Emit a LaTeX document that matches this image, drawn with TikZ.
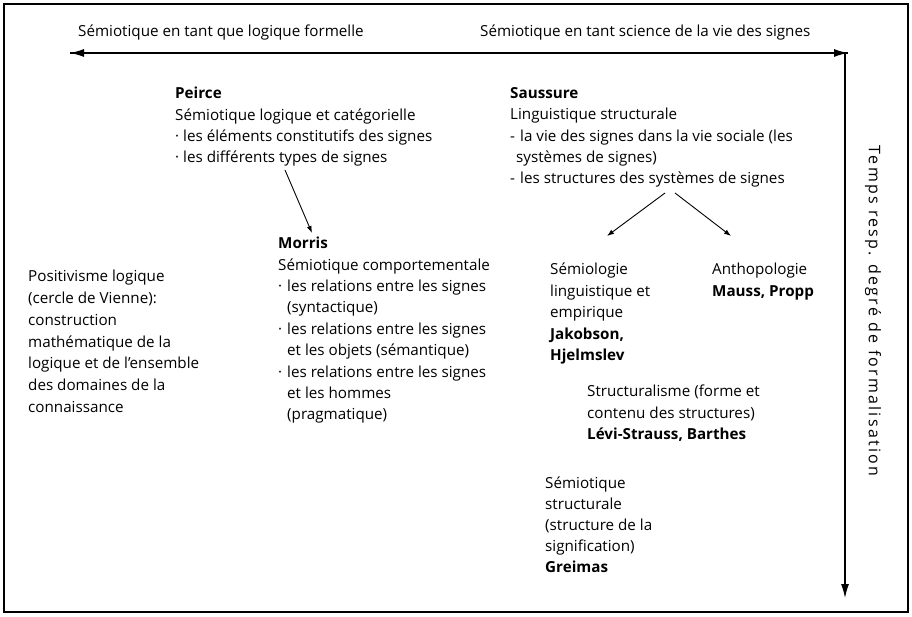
\documentclass[tikz,border=0pt]{standalone}
\usepackage{fontspec}
\setmainfont{Open Sans}
\usetikzlibrary{arrows.meta}
\begin{document}
\begin{tikzpicture}[x=1pt,y=-1pt,
  txt/.style={inner sep=0pt, anchor=north west, align=left,
    font=\fontsize{15.2}{21.4}\selectfont},
  head/.style={inner sep=0pt, anchor=west, font=\fontsize{15.2}{18}\selectfont},
  axis/.style={line width=1.2pt, -{Latex[length=14pt,width=8pt]}},
  link/.style={line width=0.9pt, -{Latex[length=7pt,width=5pt]}}]
\newcommand{\itm}[2][9pt]{\makebox[#1][l]{#2}}
\newcommand{\ind}[1][9pt]{\hspace*{#1}}
% frame
\draw[line width=1.2pt] (4,4) rectangle (908,612);
\useasboundingbox (0,0) rectangle (912,617);
% axes
\coordinate (L) at (70,53);
\coordinate (R) at (848,53);
\coordinate (C) at (845,53);
\coordinate (B) at (845,598);
\draw[axis] (R) -- (L);
\draw[axis] (L) -- (R);
\draw[axis] (C) -- (B);
\node[head] (tl) at (78,33) {Sémiotique en tant que logique formelle};
\node[head] (tr) at (480,33) {Sémiotique en tant science de la vie des signes};
\node[head, anchor=center, rotate=-90, font=\fontsize{16}{18}\selectfont] (tv) at (873,311)
  {\addfontfeature{LetterSpace=14}Temps resp. degré de formalisation};
% Peirce
\node[txt] (peirce) at (175,87) {\textbf{Peirce}\\
Sémiotique logique et catégorielle\\
\itm[8pt]{·}les éléments constitutifs des signes\\
\itm[8pt]{·}les différents types de signes};
% Morris
\node[txt] (morris) at (278,237) {\textbf{Morris}\\
Sémiotique comportementale\\
\itm{·}les relations entre les signes\\
\ind(syntactique)\\
\itm{·}les relations entre les signes\\
\ind et les objets (sémantique)\\
\itm{·}les relations entre les signes\\
\ind et les hommes\\
\ind(pragmatique)};
% Positivisme
\node[txt, font=\fontsize{15.2}{21.8}\selectfont] (posit) at (28,270) {Positivisme logique\\
(cercle de Vienne):\\
construction\\
mathématique de la\\
logique et de l'ensemble\\
des domaines de la\\
connaissance};
% Saussure
\node[txt] (saussure) at (510,87) {\textbf{Saussure}\\
Linguistique structurale\\
\itm[10pt]{-}la vie des signes dans la vie sociale (les\\
\ind[6pt]systèmes de signes)\\
\itm[10pt]{-}les structures des systèmes de signes};
% branches
\node[txt] (semio) at (550,263) {Sémiologie\\
linguistique et\\
empirique\\
\textbf{Jakobson,}\\
\textbf{Hjelmslev}};
\node[txt] (anthro) at (712,263) {Anthopologie\\
\textbf{Mauss, Propp}};
\node[txt] (struct) at (587,385) {Structuralisme (forme et\\
contenu des structures)\\
\textbf{Lévi-Strauss, Barthes}};
\node[txt, font=\fontsize{15.2}{20.8}\selectfont] (greimas) at (545,477) {Sémiotique\\
structurale\\
(structure de la\\
signification)\\
\textbf{Greimas}};
% connectors
\coordinate (p1) at (285,170);
\coordinate (m1) at (312,233);
\draw[link] (p1) -- (m1);
\coordinate (s1) at (665,193);
\coordinate (s2) at (675,193);
\coordinate (a1) at (607,236);
\coordinate (a2) at (731,236);
\draw[link] (s1) -- (a1);
\draw[link] (s2) -- (a2);
\end{tikzpicture}
\end{document}
